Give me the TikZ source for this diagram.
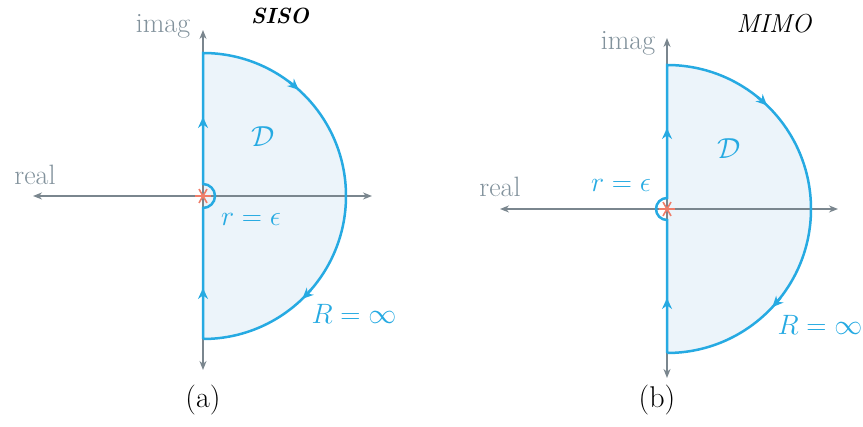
\RequirePackage{fix-cm}
\documentclass[tikz,border=0pt]{standalone}
\usetikzlibrary{arrows.meta,calc}
\definecolor{cblue}{RGB}{38,170,226}
\definecolor{caxis}{RGB}{122,134,142}
\definecolor{cfill}{RGB}{236,244,250}
\definecolor{cstar}{RGB}{240,125,105}
\definecolor{clab}{RGB}{130,146,156}
\tikzset{
  axisline/.style={draw=caxis, line width=1.5pt, {Stealth[length=9pt,width=7pt]}-{Stealth[length=9pt,width=7pt]}},
  contour/.style={draw=cblue, line width=2.5pt},
  midtip/.style={draw=cblue, line width=2.5pt, -{Stealth[length=11pt,width=10pt]}},
  starline/.style={draw=cstar, line width=1.6pt},
  axlab/.style={text=clab, font=\fontsize{28}{32}\selectfont, inner sep=0pt},
  mlab/.style={text=cblue, font=\fontsize{28}{32}\selectfont, inner sep=0pt},
  dlab/.style={text=cblue, font=\fontsize{29}{33}\selectfont, inner sep=0pt},
  titlelab/.style={text=black, font=\fontsize{26}{30}\selectfont\itshape, inner sep=0pt},
  caplab/.style={text=black, font=\fontsize{30}{34}\selectfont, inner sep=0pt}
}
\begin{document}
\begin{tikzpicture}[x=1pt,y=1pt]
\useasboundingbox (0,0) rectangle (863,427);
% ---------- (a) SISO ----------
\coordinate (Oa) at (203,231);
\fill[cfill] (203,88) -- (203,374) arc[start angle=90,end angle=-90,radius=143] -- cycle;
\draw[axisline] (33,231) -- (372,231);
\draw[axisline] (203,57) -- (203,397);
\draw[contour] (203,88) -- (203,219) arc[start angle=-90,end angle=90,radius=12]
  -- (203,374) arc[start angle=90,end angle=-90,radius=143];
\draw[midtip] (203,297) -- (203,310);
\draw[midtip] (203,126) -- (203,139);
\draw[midtip] ($(Oa)+(53:143)$) arc[start angle=53,end angle=48,radius=143];
\draw[midtip] ($(Oa)+(-41:143)$) arc[start angle=-41,end angle=-46,radius=143];
\foreach \a in {0,60,120} \draw[starline] ($(Oa)+(\a:8)$) -- ($(Oa)+(\a+180:8)$);
\node[axlab] (imaga) at (163,401) {imag};
\node[titlelab,font=\fontsize{22}{26}\selectfont\bfseries\itshape] (siso) at (280,411) {SISO};
\node[axlab] (reala) at (35,252) {real};
\node[dlab] (Da) at (263,290) {$\mathcal{D}$};
\node[mlab] (ra) at (251,208) {$r=\epsilon$};
\node[mlab] (Ra) at (354,113) {$R=\infty$};
\node[caplab] (capa) at (203,27) {(a)};
% ---------- (b) MIMO ----------
\coordinate (Ob) at (667,218);
\fill[cfill] (667,74) -- (667,362) arc[start angle=90,end angle=-90,radius=144] -- cycle;
\draw[axisline] (500,218) -- (838,218);
\draw[axisline] (667,49) -- (667,389);
\draw[contour] (667,74) -- (667,207) arc[start angle=-90,end angle=-270,radius=11]
  -- (667,362) arc[start angle=90,end angle=-90,radius=144];
\draw[midtip] (667,286) -- (667,299);
\draw[midtip] (667,116) -- (667,129);
\draw[midtip] ($(Ob)+(51:144)$) arc[start angle=51,end angle=46,radius=144];
\draw[midtip] ($(Ob)+(-38:144)$) arc[start angle=-38,end angle=-43,radius=144];
\foreach \a in {0,60,120} \draw[starline] ($(Ob)+(\a:8)$) -- ($(Ob)+(\a+180:8)$);
\node[axlab] (imagb) at (628,384) {imag};
\node[titlelab] (mimo) at (774,403) {MIMO};
\node[axlab] (realb) at (500,240) {real};
\node[dlab] (Db) at (729,278) {$\mathcal{D}$};
\node[mlab] (rb) at (621,242) {$r=\epsilon$};
\node[mlab] (Rb) at (820,102) {$R=\infty$};
\node[caplab] (capb) at (657,27) {(b)};
\end{tikzpicture}
\end{document}
